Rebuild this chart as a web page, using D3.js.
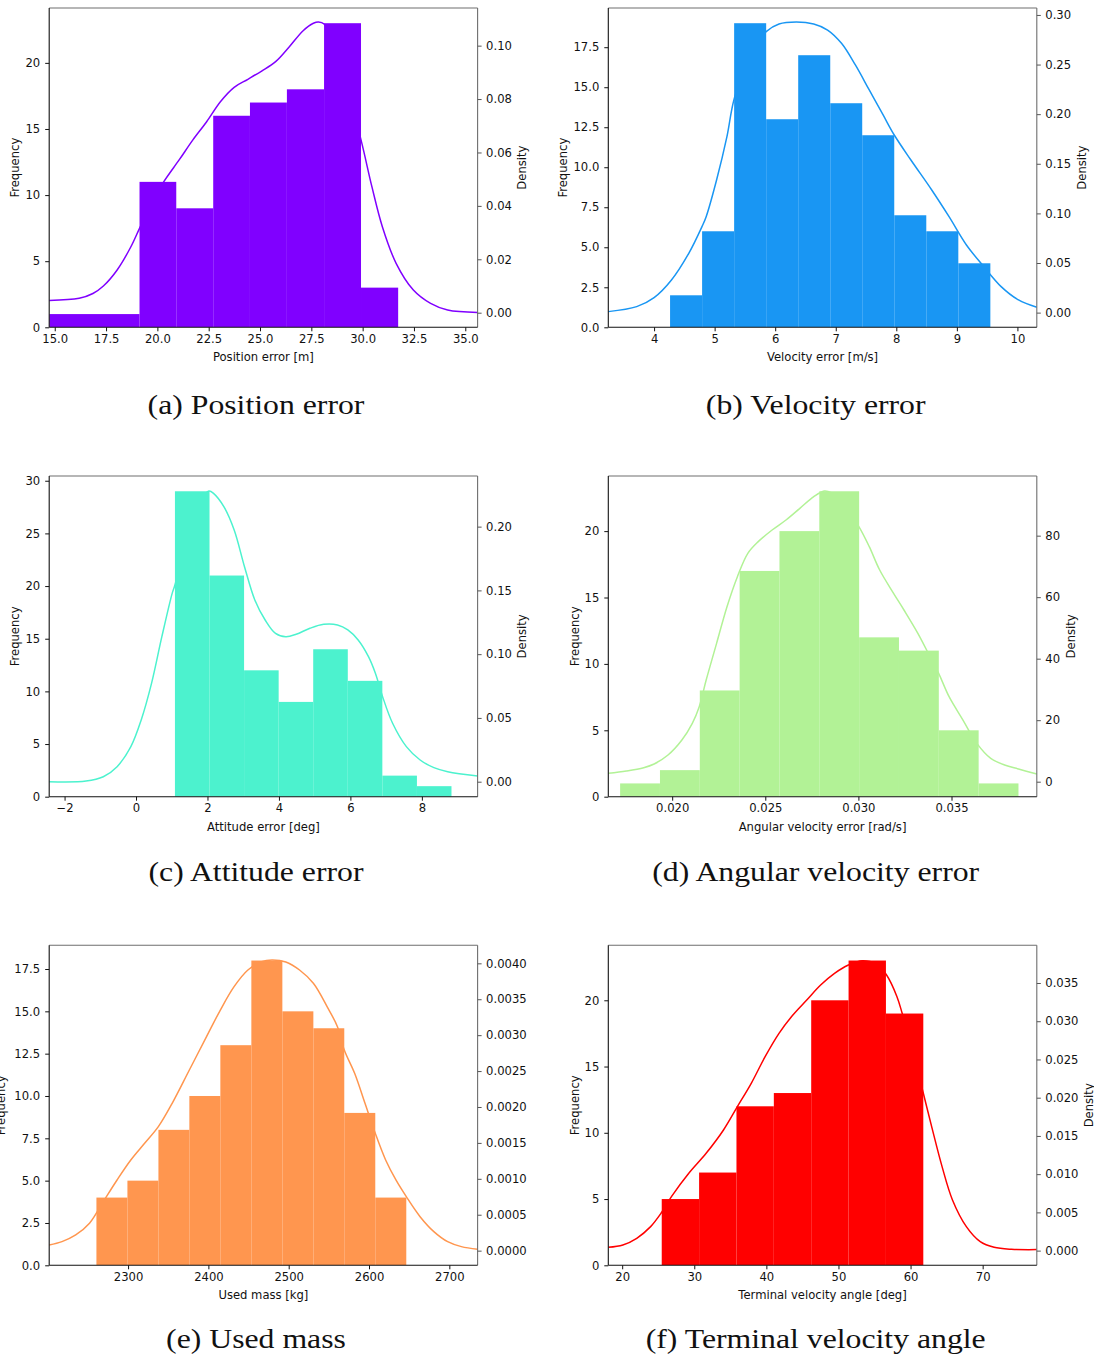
<!DOCTYPE html>
<html>
<head>
<meta charset="utf-8">
<script src="https://cdn.jsdelivr.net/npm/d3@7"></script>
<style>
  html, body { margin: 0; padding: 0; background: #fff; }
  svg { display: block; }
</style>
</head>
<body>
<svg id="fig" width="1094" height="1363"></svg>
<script>
// ---------------- data ----------------
const captions = ["Position error", "Velocity error", "Attitude error",
                  "Angular velocity error", "Used mass", "Terminal velocity angle"];
const letters = ["a", "b", "c", "d", "e", "f"];
const xLabels = ["Position error [m]", "Velocity error [m/s]", "Attitude error [deg]",
                 "Angular velocity error [rad/s]", "Used mass [kg]", "Terminal velocity angle [deg]"];
const colors = ["#8000ff", "#1996f3", "#4cf2ce", "#b2f296", "#ff964f", "#ff0000"];

// (a) position error
const posEdges  = [14.73, 19.13, 20.92, 22.72, 24.51, 26.31, 28.12, 29.92, 31.73];
const posCounts = [1, 11, 9, 16, 17, 18, 23, 3];
const posKde = [[14.73,0.0046],[16.19,0.0054],[16.86,0.0072],[17.37,0.0100],[18.04,0.0160],
  [18.71,0.0247],[19.13,0.0316],[19.71,0.0409],[20.30,0.0489],[21.06,0.0572],[21.73,0.0647],
  [22.40,0.0715],[23.07,0.0790],[23.74,0.0844],[24.41,0.0874],[25.08,0.0905],[25.76,0.0940],
  [26.43,0.0996],[27.10,0.1056],[27.60,0.1084],[27.85,0.1089],[28.12,0.1081],[29.03,0.0900],
  [29.92,0.0647],[30.45,0.0472],[30.96,0.0322],[31.63,0.0185],[32.47,0.0085],[33.31,0.0035],
  [34.14,0.0010],[35.60,0.0001]];
const posXTicks = [15, 17.5, 20, 22.5, 25, 27.5, 30, 32.5, 35];
const posFreqTicks = [0, 5, 10, 15, 20];
const posDensTicks = [0, 0.02, 0.04, 0.06, 0.08, 0.10];

// (b) velocity error
const velEdges  = [4.264, 4.793, 5.322, 5.851, 6.380, 6.909, 7.437, 7.966, 8.495, 9.024, 9.553];
const velCounts = [2, 6, 19, 13, 17, 14, 12, 7, 6, 4];
const velKde = [[3.244,0.0010],[3.713,0.0060],[4.000,0.0151],[4.287,0.0329],[4.573,0.0598],
  [4.791,0.0867],[4.860,0.0967],[5.032,0.1337],[5.203,0.1774],[5.318,0.2143],[5.576,0.2600],
  [5.851,0.2832],[6.063,0.2909],[6.350,0.2929],[6.636,0.2909],[6.865,0.2848],[7.095,0.2714],
  [7.324,0.2496],[7.553,0.2244],[7.782,0.1992],[7.966,0.1790],[8.241,0.1538],[8.585,0.1236],
  [8.871,0.0967],[9.158,0.0682],[9.444,0.0464],[9.731,0.0262],[10.017,0.0128],[10.321,0.0054]];
const velXTicks = [4, 5, 6, 7, 8, 9, 10];
const velFreqTicks = [0, 2.5, 5, 7.5, 10, 12.5, 15, 17.5];
const velDensTicks = [0, 0.05, 0.10, 0.15, 0.20, 0.25, 0.30];

// (c) attitude error
const attEdges  = [1.089, 2.057, 3.024, 3.992, 4.959, 5.927, 6.894, 7.862, 8.829];
const attCounts = [29, 21, 12, 9, 14, 11, 2, 1];
const attKde = [[-2.43,0.0000],[-1.398,0.0005],[-0.916,0.0039],[-0.530,0.0118],[-0.145,0.0275],
  [0.145,0.0484],[0.434,0.0771],[0.723,0.1137],[1.012,0.1477],[1.089,0.1542],[1.542,0.2050],
  [1.880,0.2240],[2.043,0.2280],[2.169,0.2261],[2.458,0.2157],[2.747,0.1974],[3.036,0.1686],
  [3.325,0.1425],[3.614,0.1268],[3.904,0.1163],[4.193,0.1137],[4.482,0.1156],[4.867,0.1203],
  [5.253,0.1234],[5.639,0.1229],[5.928,0.1190],[6.217,0.1111],[6.506,0.0980],[6.699,0.0850],
  [6.901,0.0667],[7.181,0.0458],[7.566,0.0275],[7.952,0.0170],[8.337,0.0110],[8.723,0.0078],
  [9.561,0.0044]];
const attXTicks = [-2, 0, 2, 4, 6, 8];
const attFreqTicks = [0, 5, 10, 15, 20, 25, 30];
const attDensTicks = [0, 0.05, 0.10, 0.15, 0.20];

// (d) angular velocity error
const angEdges  = [0.017205, 0.019344, 0.021483, 0.023622, 0.025761, 0.027900,
                   0.030040, 0.032179, 0.034318, 0.036457, 0.038596];
const angCounts = [1, 2, 8, 17, 20, 23, 12, 11, 5, 1];
const angKde = [[0.016571,2.71],[0.017540,3.47],[0.018472,4.55],[0.019031,5.75],[0.019776,8.67],
  [0.020522,13.55],[0.021081,18.97],[0.021453,24.39],[0.021826,33.06],[0.022385,44.99],
  [0.022944,56.91],[0.023503,66.67],[0.024062,74.25],[0.024621,78.05],[0.025366,81.84],
  [0.026112,85.09],[0.026857,88.89],[0.027603,92.68],[0.028162,94.53],[0.028534,93.98],
  [0.029279,89.5],[0.030025,82.93],[0.030584,76.42],[0.031143,68.83],[0.031888,61.25],
  [0.032447,55.83],[0.033193,48.24],[0.033938,39.57],[0.034311,35.23],[0.034870,27.64],
  [0.035615,20.05],[0.036360,12.47],[0.037106,7.59],[0.037851,5.42],[0.038596,4.12],
  [0.039584,2.49]];
const angXTicks = [0.020, 0.025, 0.030, 0.035];
const angFreqTicks = [0, 5, 10, 15, 20];
const angDensTicks = [0, 20, 40, 60, 80];

// (e) used mass
const massEdges  = [2260.6, 2299.2, 2337.8, 2376.3, 2414.9, 2453.5, 2492.1, 2530.7, 2569.2, 2607.8, 2646.4];
const massCounts = [4, 5, 8, 10, 13, 18, 15, 14, 9, 4];
const massKde = [[2201.8,0.0000789],[2217.7,0.000125],[2234.8,0.000218],[2252.0,0.000381],
  [2269.1,0.000682],[2286.3,0.000984],[2303.4,0.001262],[2320.6,0.001494],[2337.7,0.001726],
  [2354.9,0.002051],[2376.3,0.002515],[2397.7,0.002979],[2414.9,0.003350],[2432.0,0.003675],
  [2449.2,0.003907],[2466.3,0.004023],[2479.2,0.004046],[2496.4,0.004019],[2513.5,0.003907],
  [2530.7,0.003722],[2547.8,0.003397],[2560.7,0.003118],[2569.2,0.002794],[2582.1,0.002469],
  [2595.0,0.002051],[2607.8,0.001633],[2620.7,0.001262],[2633.5,0.000984],[2646.4,0.000752],
  [2663.6,0.000473],[2680.7,0.000265],[2697.9,0.000125],[2715.0,0.0000557],[2735.2,0.0000186]];
const massXTicks = [2300, 2400, 2500, 2600, 2700];
const massFreqTicks = [0, 2.5, 5, 7.5, 10, 12.5, 15, 17.5];
const massDensTicks = [0, 0.0005, 0.0010, 0.0015, 0.0020, 0.0025, 0.0030, 0.0035, 0.0040];

// (f) terminal velocity angle
const angleEdges  = [25.486, 30.669, 35.852, 41.035, 46.218, 51.401, 56.584, 61.767];
const angleCounts = [5, 7, 12, 13, 20, 23, 19];
const angleKde = [[18.075,0.000436],[20.096,0.000741],[22.021,0.001613],[23.946,0.003138],
  [25.390,0.004882],[26.834,0.007061],[29.240,0.010112],[31.646,0.012727],[34.052,0.015778],
  [35.977,0.018829],[37.902,0.021880],[39.827,0.025367],[41.752,0.028418],[43.677,0.030815],
  [45.602,0.032777],[47.527,0.034738],[49.452,0.036264],[51.377,0.037353],[53.302,0.037920],
  [55.226,0.037484],[56.670,0.036046],[58.114,0.033213],[58.836,0.031033],[60.280,0.026000],
  [61.771,0.020573],[62.926,0.016214],[64.370,0.010984],[65.813,0.006625],[67.738,0.003138],
  [69.663,0.001177],[71.588,0.000436],[73.994,0.000174],[77.507,0.000131]];
const angleXTicks = [20, 30, 40, 50, 60, 70];
const angleFreqTicks = [0, 5, 10, 15, 20];
const angleDensTicks = [0, 0.005, 0.010, 0.015, 0.020, 0.025, 0.030, 0.035];

// axis limits (data units)
const xDomains = [[14.73, 35.6], [3.244, 10.32], [-2.43, 9.56],
                  [0.01657, 0.03958], [2201.8, 2735.2], [18.075, 77.51]];
const freqMax = [24.15, 19.95, 30.45, 24.15, 18.9, 24.15];
const densDomains = [[-0.00547, 0.1141], [-0.0148, 0.307], [-0.01176, 0.2397],
                     [-4.88, 99.4], [-0.000204, 0.004251], [-0.00192, 0.03993]];

// ---------------- layout ----------------
const colLeft = [49.2, 608.3], colRight = [477.6, 1036.8];
const rowTop = [8, 476, 945.3], rowBottom = [327.3, 796.7, 1265.3];
const captionBase = [414.3, 881.3, 1348.3];
const captionCenter = [256, 815.7];
const tickFont = "'DejaVu Sans', sans-serif";
const tickSize = 11.6;

const panels = [
  {edges: posEdges,   counts: posCounts,   kde: posKde,   xt: posXTicks,   ft: posFreqTicks,   dt: posDensTicks,   xf: ".1f", ff: "d",   df: ".2f", dens: true,  freqGap: 6},
  {edges: velEdges,   counts: velCounts,   kde: velKde,   xt: velXTicks,   ft: velFreqTicks,   dt: velDensTicks,   xf: "d",   ff: ".1f", df: ".2f", dens: true,  freqGap: 6},
  {edges: attEdges,   counts: attCounts,   kde: attKde,   xt: attXTicks,   ft: attFreqTicks,   dt: attDensTicks,   xf: "d",   ff: "d",   df: ".2f", dens: true,  freqGap: 6},
  {edges: angEdges,   counts: angCounts,   kde: angKde,   xt: angXTicks,   ft: angFreqTicks,   dt: angDensTicks,   xf: ".3f", ff: "d",   df: "d",   dens: true,  freqGap: 6},
  {edges: massEdges,  counts: massCounts,  kde: massKde,  xt: massXTicks,  ft: massFreqTicks,  dt: massDensTicks,  xf: "d",   ff: ".1f", df: ".4f", dens: false, freqGap: 9.5},
  {edges: angleEdges, counts: angleCounts, kde: angleKde, xt: angleXTicks, ft: angleFreqTicks, dt: angleDensTicks, xf: "d",   ff: "d",   df: ".3f", dens: true,  freqGap: 6}
];

const svg = d3.select("#fig");
const defs = svg.append("defs");

function styleAxis(g, color) {
  g.select(".domain").remove();
  g.attr("font-family", tickFont).attr("font-size", tickSize);
  g.selectAll("line").attr("stroke", color).attr("stroke-width", 1);
  g.selectAll("text").attr("fill", "#111");
}

panels.forEach((p, i) => {
  const row = Math.floor(i / 2), col = i % 2;
  const L = colLeft[col], R = colRight[col], T = rowTop[row], B = rowBottom[row];
  const color = colors[i];

  const x = d3.scaleLinear().domain(xDomains[i]).range([L, R]);
  const yF = d3.scaleLinear().domain([0, freqMax[i]]).range([B, T]);
  const yD = d3.scaleLinear().domain(densDomains[i]).range([B, T]);

  const clipId = "clip-" + letters[i];
  defs.append("clipPath").attr("id", clipId)
    .append("rect").attr("x", L).attr("y", T).attr("width", R - L).attr("height", B - T);

  const g = svg.append("g");
  const plot = g.append("g").attr("clip-path", `url(#${clipId})`);

  // kernel density estimate, drawn under the histogram bars
  const line = d3.line()
    .x(d => x(d[0])).y(d => yD(d[1]))
    .curve(d3.curveCatmullRom.alpha(0.5));
  plot.append("path").datum(p.kde)
    .attr("d", line).attr("fill", "none")
    .attr("stroke", color).attr("stroke-width", 1.5);

  // histogram bars
  const bins = p.counts.map((c, k) => ({x0: p.edges[k], x1: p.edges[k + 1], n: c}));
  plot.selectAll("rect.bar").data(bins).join("rect")
    .attr("class", "bar")
    .attr("x", d => x(d.x0)).attr("width", d => x(d.x1) - x(d.x0))
    .attr("y", d => yF(d.n)).attr("height", d => yF(0) - yF(d.n))
    .attr("fill", color);

  // spines
  g.append("line").attr("x1", L).attr("x2", R).attr("y1", T).attr("y2", T).attr("stroke", "#6e6e6e").attr("stroke-width", 1.1);
  g.append("line").attr("x1", R).attr("x2", R).attr("y1", T).attr("y2", B).attr("stroke", "#6e6e6e").attr("stroke-width", 1.1);
  g.append("line").attr("x1", L).attr("x2", L).attr("y1", T).attr("y2", B).attr("stroke", "#111").attr("stroke-width", 1.1);
  g.append("line").attr("x1", L).attr("x2", R).attr("y1", B).attr("y2", B).attr("stroke", "#111").attr("stroke-width", 1.1);

  // axes
  const gx = g.append("g").attr("transform", `translate(0,${B})`)
    .call(d3.axisBottom(x).tickValues(p.xt).tickFormat(d3.format(p.xf)).tickSize(4).tickPadding(3.4));
  styleAxis(gx, "#111");

  const gl = g.append("g").attr("transform", `translate(${L},0)`)
    .call(d3.axisLeft(yF).tickValues(p.ft).tickFormat(d3.format(p.ff)).tickSize(4).tickPadding(5));
  styleAxis(gl, "#111");

  const gr = g.append("g").attr("transform", `translate(${R},0)`)
    .call(d3.axisRight(yD).tickValues(p.dt).tickFormat(d3.format(p.df)).tickSize(4).tickPadding(4.5));
  styleAxis(gr, "#555");

  // axis titles
  g.append("text")
    .attr("x", (L + R) / 2).attr("y", B + 34)
    .attr("text-anchor", "middle")
    .attr("font-family", tickFont).attr("font-size", tickSize).attr("fill", "#111")
    .text(xLabels[i]);

  const lb = gl.node().getBBox();
  const freqX = L + lb.x - p.freqGap;
  g.append("text")
    .attr("transform", `translate(${freqX},${(T + B) / 2}) rotate(-90)`)
    .attr("text-anchor", "middle")
    .attr("font-family", tickFont).attr("font-size", tickSize).attr("fill", "#111")
    .text("Frequency");

  if (p.dens) {
    const rb = gr.node().getBBox();
    const densX = R + rb.x + rb.width + 6 + 0.73 * tickSize;
    g.append("text")
      .attr("transform", `translate(${densX},${(T + B) / 2}) rotate(-90)`)
      .attr("text-anchor", "middle")
      .attr("font-family", tickFont).attr("font-size", tickSize).attr("fill", "#111")
      .text("Density");
  }

  // sub-figure caption
  const cap = svg.append("text")
    .attr("x", captionCenter[col]).attr("y", captionBase[row])
    .attr("text-anchor", "middle")
    .attr("font-family", "'Liberation Serif', 'Times New Roman', serif")
    .attr("font-size", 27.6).attr("fill", "#111")
    .text(`(${letters[i]}) ${captions[i]}`);
  const w = cap.node().getComputedTextLength();
  cap.attr("textLength", w * 1.15).attr("lengthAdjust", "spacingAndGlyphs");
});
</script>
</body>
</html>
